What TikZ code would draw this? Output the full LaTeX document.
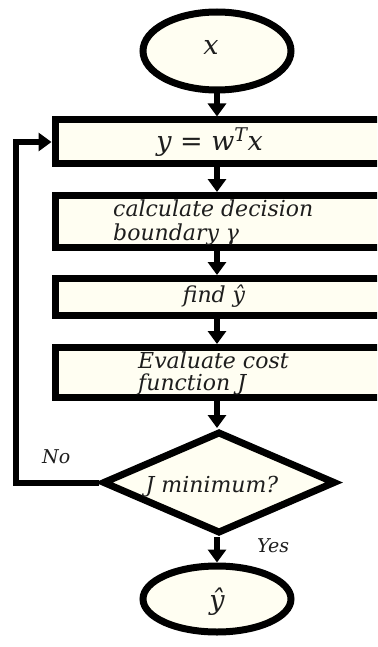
\documentclass[tikz,border=0pt]{standalone}
\usepackage{fontspec}
\setmainfont{DejaVu Serif}
\usetikzlibrary{shapes.geometric,arrows.meta}
\definecolor{cream}{RGB}{255,254,242}
\definecolor{ink}{RGB}{30,30,30}
\begin{document}
\begin{tikzpicture}[x=1pt,y=-1pt,
  blk/.style={draw=black,line width=7pt,fill=cream,inner sep=0pt},
  boxst/.style={blk,rectangle,minimum width=335pt},
  ell/.style={blk,ellipse,minimum width=148pt},
  dia/.style={blk,diamond,minimum width=233pt,minimum height=102pt},
  txt/.style={font=\itshape\fontsize{22}{22}\selectfont,text=ink,inner sep=0pt,anchor=base},
  big/.style={font=\itshape\fontsize{27}{27}\selectfont,text=ink,inner sep=0pt,anchor=base},
  lbl/.style={font=\itshape\fontsize{19}{19}\selectfont,text=ink,inner sep=0pt,anchor=base},
  arr/.style={line width=6pt,-{Triangle[width=18pt,length=13pt]}}]
\useasboundingbox (0,0) rectangle (377,647);
\clip (0,0) rectangle (377,647);
\fill[white] (0,0) rectangle (377,647);
\coordinate (col) at (217,0);
\coordinate (fb) at (16,0);
% shapes
\node[ell,minimum height=78pt] (e1) at (217,51) {};
\node[boxst,minimum height=44pt] (b1) at (222.5,142) {};
\node[boxst,minimum height=52pt] (b2) at (222.5,221.5) {};
\node[boxst,minimum height=37pt] (b3) at (222.5,297) {};
\node[boxst,minimum height=50pt] (b4) at (222.5,372.5) {};
\node[dia] (d) at (219,482.5) {};
\node[ell,minimum height=66pt] (e2) at (217,599) {};
% texts
\node[big] (t0) at (211,55) {x};
\node[big] (t1) at (209.5,151) {y = w\textsuperscript{T}x};
\node[txt,anchor=base west] (t2a) at (113,216.5) {calculate decision};
\node[txt,anchor=base west] (t2b) at (113,240) {boundary γ};
\node[txt] (t3) at (214,302) {find ŷ};
\node[txt,anchor=base west] (t4a) at (138,368) {Evaluate cost};
\node[txt,anchor=base west] (t4b) at (138,390) {function J};
\node[txt] (t5) at (212,492) {J minimum?};
\node[big] (t6) at (217,609) {ŷ};
\node[lbl,anchor=base west] (no) at (42,463) {No};
\node[lbl,anchor=base west] (yes) at (257,552) {Yes};
% connectors
\draw[arr] (e1.south) -- (col |- b1.north);
\draw[arr] (col |- b1.south) -- (col |- b2.north);
\draw[arr] (col |- b2.south) -- (col |- b3.north);
\draw[arr] (col |- b3.south) -- (col |- b4.north);
\draw[arr] (col |- b4.south) -- (col |- d.north);
\draw[arr] (col |- d.south) -- (e2.north);
\draw[arr] (d.west) -- (fb |- d.west) |- (b1.west);
\end{tikzpicture}
\end{document}
